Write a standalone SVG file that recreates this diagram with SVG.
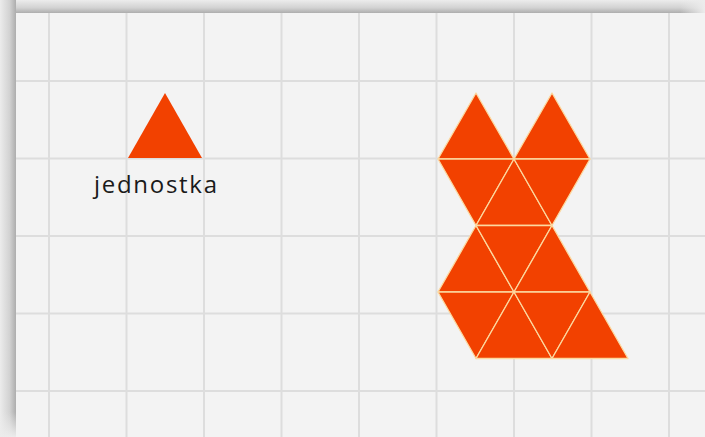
<svg xmlns="http://www.w3.org/2000/svg" width="705" height="437" viewBox="0 0 705 437">
  <defs>
    <linearGradient id="shTop" x1="0" y1="0" x2="0" y2="1">
      <stop offset="0" stop-color="#ececec"/>
      <stop offset="0.6" stop-color="#d2d2d2"/>
      <stop offset="1" stop-color="#adadad"/>
    </linearGradient>
    <linearGradient id="shLeft" x1="0" y1="0" x2="1" y2="0">
      <stop offset="0" stop-color="#ececec"/>
      <stop offset="0.6" stop-color="#d2d2d2"/>
      <stop offset="1" stop-color="#adadad"/>
    </linearGradient>
    <linearGradient id="fadeRight" x1="0" y1="0" x2="1" y2="0">
      <stop offset="0" stop-color="#ececec" stop-opacity="0"/>
      <stop offset="1" stop-color="#ececec" stop-opacity="1"/>
    </linearGradient>
    <linearGradient id="fadeBottom" x1="0" y1="0" x2="0" y2="1">
      <stop offset="0" stop-color="#ececec" stop-opacity="0"/>
      <stop offset="1" stop-color="#ececec" stop-opacity="1"/>
    </linearGradient>
  </defs>
  <style>
    .grid line { stroke: #dddddd; stroke-width: 2; }
    .tri { fill: #f24100; stroke: #fcd9a0; stroke-width: 1.3; stroke-linejoin: round; }
    .unit { fill: #f24100; }
    .lbl { font-family: "Open Sans", "Noto Sans", sans-serif; font-size: 24px; fill: #1a1a1a; }
  </style>

  <!-- page frame with shadow -->
  <rect x="0" y="0" width="705" height="437" fill="#ececec"/>
  <rect x="0" y="0" width="705" height="13" fill="url(#shTop)"/>
  <rect x="0" y="0" width="16" height="437" fill="url(#shLeft)"/>
  <rect x="680" y="0" width="25" height="13" fill="url(#fadeRight)"/>
  <rect x="0" y="412" width="16" height="25" fill="url(#fadeBottom)"/>
  <rect x="16" y="13" width="689" height="424" fill="#f3f3f3"/>

  <!-- grid -->
  <g class="grid">
    <line x1="49" y1="13" x2="49" y2="437"/>
    <line x1="126.5" y1="13" x2="126.5" y2="437"/>
    <line x1="204" y1="13" x2="204" y2="437"/>
    <line x1="281.5" y1="13" x2="281.5" y2="437"/>
    <line x1="359" y1="13" x2="359" y2="437"/>
    <line x1="436.5" y1="13" x2="436.5" y2="437"/>
    <line x1="514" y1="13" x2="514" y2="437"/>
    <line x1="591.5" y1="13" x2="591.5" y2="437"/>
    <line x1="669" y1="13" x2="669" y2="437"/>
    <line x1="16" y1="81" x2="705" y2="81"/>
    <line x1="16" y1="158.5" x2="705" y2="158.5"/>
    <line x1="16" y1="236" x2="705" y2="236"/>
    <line x1="16" y1="313.5" x2="705" y2="313.5"/>
    <line x1="16" y1="391" x2="705" y2="391"/>
  </g>

  <!-- unit triangle -->
  <g id="unit">
    <polygon class="unit" points="165,93 128,158 202,158"/>
    <text class="lbl" x="94" y="193" textLength="123" lengthAdjust="spacing">jednostka</text>
  </g>

  <!-- composite figure -->
  <g id="figure">
    <!-- row 1 -->
    <polygon class="tri" points="476,93 438,159 514,159"/>
    <polygon class="tri" points="552,93 514,159 590,159"/>
    <!-- row 2 -->
    <polygon class="tri" points="438,159 514,159 476,225.5"/>
    <polygon class="tri" points="514,159 476,225.5 552,225.5"/>
    <polygon class="tri" points="514,159 590,159 552,225.5"/>
    <!-- row 3 -->
    <polygon class="tri" points="476,225.5 438,292 514,292"/>
    <polygon class="tri" points="476,225.5 552,225.5 514,292"/>
    <polygon class="tri" points="552,225.5 514,292 590,292"/>
    <!-- row 4 -->
    <polygon class="tri" points="438,292 514,292 476,358.5"/>
    <polygon class="tri" points="514,292 476,358.5 552,358.5"/>
    <polygon class="tri" points="514,292 590,292 552,358.5"/>
    <polygon class="tri" points="590,292 552,358.5 628,358.5"/>
  </g>
</svg>
